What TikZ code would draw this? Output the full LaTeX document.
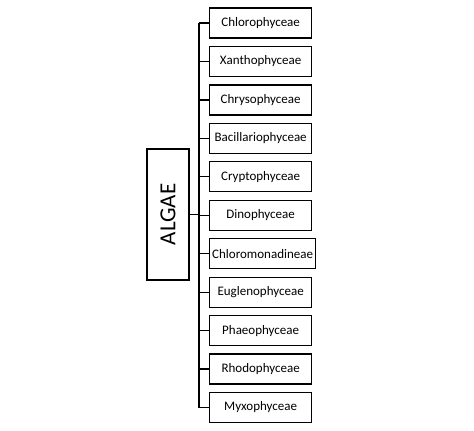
\documentclass[tikz,border=0pt]{standalone}
\usepackage{fontspec}
\setmainfont{Carlito}
\begin{document}
\begin{tikzpicture}[x=1pt,y=-1pt,
  cls/.style={draw,line width=1.3pt,minimum height=30pt,inner sep=0.5pt,anchor=west,font=\fontsize{13}{15}\selectfont},
  link/.style={line width=1.3pt}]
\useasboundingbox (0,0) rectangle (474,431);
\node[draw,line width=1.3pt,minimum width=42pt,minimum height=131pt,inner sep=0pt] (algae) at (168,214.5) {};
\node[rotate=90,font=\fontsize{23}{26}\selectfont] (algaetxt) at (algae.center) {ALGAE};
\foreach \t/\w [count=\i from 0] in {Chlorophyceae/102,Xanthophyceae/102,Chrysophyceae/102,Bacillariophyceae/102,Cryptophyceae/102,Dinophyceae/102,Chloromonadineae/106,Euglenophyceae/102,Phaeophyceae/102,Rhodophyceae/102,Myxophyceae/102}{
  \node[cls,minimum width=\w pt] (b\i) at (209,{23+38.45*\i}) {\t};
  \draw[link] (b\i.west) -- ++(-10,0) coordinate (t\i);
}
\draw[link] (t0) -- (t10);
\draw[link] (algae.east) -- (algae.east -| t0);
\end{tikzpicture}
\end{document}
